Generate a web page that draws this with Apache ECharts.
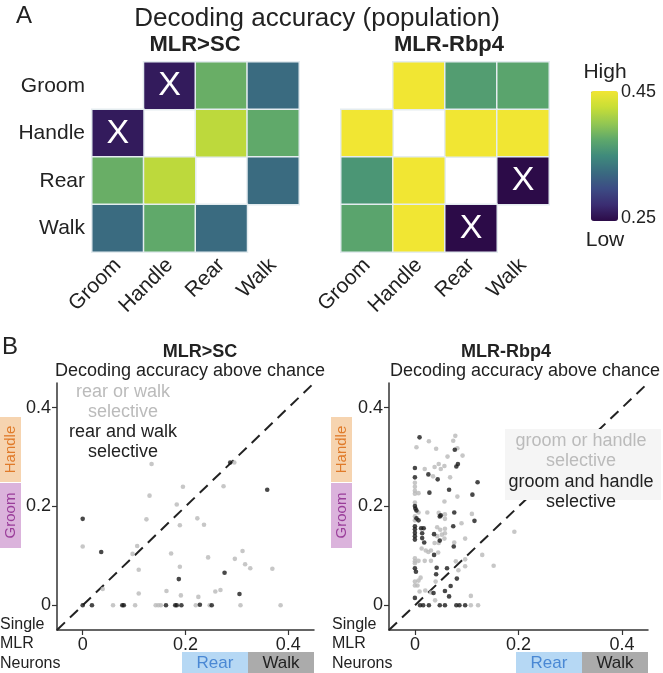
<!DOCTYPE html>
<html><head><meta charset="utf-8">
<script src="https://cdn.jsdelivr.net/npm/echarts@6/dist/echarts.min.js"></script>
<style>html,body{margin:0;padding:0;background:#fff}#c{width:663px;height:673px}</style>
</head><body><div id="c"></div>
<script>
// ---------- data ----------
const behaviors = ['Groom', 'Handle', 'Rear', 'Walk'];
// rows (y, top to bottom) x columns (x); null = diagonal, no cell
const accMLRSC = [
  [null, 0.262, 0.380, 0.325],
  [0.262, null, 0.420, 0.376],
  [0.380, 0.420, null, 0.325],
  [0.325, 0.376, 0.325, null]
];
const accRbp4 = [
  [null, 0.45, 0.366, 0.372],
  [0.45, null, 0.45, 0.45],
  [0.360, 0.45, null, 0.25],
  [0.372, 0.45, 0.25, null]
];
const xMarksMLRSC = [[1, 0], [0, 1]];   // [column, row]
const xMarksRbp4 = [[3, 2], [2, 3]];
const colorRange = [0.25, 0.45];
const colorStops = ['#2c0b48', '#3b2d72', '#3c4c84', '#3a6b80', '#3f8a7c', '#5ea86b', '#93c752', '#c8de36', '#f1e633'];

const scatterRange = [-0.05, 0.45];
const scatterTicks = [0, 0.2, 0.4];
const diagonal = [[-0.05, -0.05], [0.45, 0.45]];

// MLR>SC: gray = rear OR walk selective, black = rear AND walk selective
const scOr = [
  [0.134, 0.286], [0.295, 0.289], [0.195, 0.240], [0.274, 0.241], [0.130, 0.222], [0.183, 0.204],
  [0.124, 0.174], [0.223, 0.176], [0.236, 0.163], [0.189, 0.162], [0.000, 0.119], [0.106, 0.120],
  [0.097, 0.104], [0.172, 0.105], [0.311, 0.110], [0.244, 0.097], [0.296, 0.094], [0.316, 0.083],
  [0.326, 0.075], [0.369, 0.074], [0.109, 0.072], [0.189, 0.078], [0.039, 0.033], [0.109, 0.024],
  [0.163, 0.029], [0.191, 0.020], [0.225, 0.017], [0.258, 0.028], [0.268, 0.031], [0.059, 0],
  [0.102, 0], [0.142, 0], [0.147, 0], [0.152, 0], [0.220, 0], [0.247, 0], [0.307, 0], [0.385, 0]
];
const scAnd = [
  [0.287, 0.289], [0.359, 0.234], [0.000, 0.175], [0.036, 0.108], [0.276, 0.066], [0.187, 0.053],
  [0.305, 0.023], [0.000, 0], [0.018, 0], [0.077, 0], [0.080, 0], [0.162, 0], [0.180, 0],
  [0.183, 0], [0.192, 0], [0.228, 0.001], [0.251, 0]
];
// MLR-Rbp4: gray = groom OR handle selective, black = groom AND handle selective
const rbOr = [
  [0.078, 0.343], [0.027, 0.332], [0.074, 0.333], [0.003, 0.320], [0.041, 0.317], [0.082, 0.318],
  [0.092, 0.303], [0.063, 0.301], [0.019, 0.276], [0.038, 0.280], [0.046, 0.286], [0.050, 0.276],
  [0.057, 0.282], [0.035, 0.261], [0.068, 0.259], [0.000, 0.248], [0.000, 0.240], [0.000, 0.232],
  [0.000, 0.226], [0.007, 0.227], [0.057, 0.210], [0.082, 0.220], [0.000, 0.208], [0.007, 0.188],
  [0.024, 0.188], [0.046, 0.187], [0.058, 0.184], [0.058, 0.175], [0.110, 0.185], [0.000, 0.180],
  [0.000, 0.172], [0.090, 0.166], [0.043, 0.158], [0.049, 0.153], [0.058, 0.155], [0.052, 0.143],
  [0.058, 0.146], [0.043, 0.140], [0.038, 0.126], [0.046, 0.126], [0.057, 0.135], [0.076, 0.127],
  [0.097, 0.135], [0.192, 0.149], [0.013, 0.115], [0.021, 0.111], [0.026, 0.108], [0.031, 0.111],
  [0.045, 0.107], [0.130, 0.102], [0.000, 0.095], [0.000, 0.089], [0.000, 0.085], [0.007, 0.090],
  [0.019, 0.090], [0.031, 0.090], [0.079, 0.089], [0.097, 0.093], [0.152, 0.080], [0.084, 0.071],
  [0.097, 0.079], [0.000, 0.048], [0.007, 0.050], [0.011, 0.056], [0.040, 0.048], [0.000, 0.040],
  [0.005, 0.040], [0.020, 0.030], [0.031, 0.026], [0.009, 0.028], [0.039, 0.010], [0.108, 0.019],
  [0.108, 0], [0.122, 0]
];
const rbAnd = [
  [0.009, 0.340], [0.077, 0.315], [0.083, 0.286], [0.080, 0.281], [0.000, 0.278], [0.026, 0.265],
  [0.000, 0.259], [0.044, 0.255], [0.121, 0.249], [0.028, 0.228], [0.066, 0.234], [0.111, 0.224],
  [0.000, 0.201], [0.001, 0.196], [0.003, 0.192], [0.076, 0.188], [0.050, 0.182], [0.048, 0.180],
  [0.003, 0.176], [0.007, 0.172], [0.115, 0.171], [0.000, 0.160], [0.000, 0.154], [0.000, 0.147],
  [0.000, 0.140], [0.000, 0.133], [0.012, 0.156], [0.017, 0.156], [0.014, 0.146], [0.014, 0.136],
  [0.018, 0.127], [0.074, 0.160], [0.037, 0.144], [0.048, 0.131], [0.075, 0.119], [0.037, 0.102],
  [0.000, 0.075], [0.002, 0.068], [0.042, 0.076], [0.062, 0.075], [0.041, 0.063], [0.081, 0.054],
  [0.069, 0.039], [0.036, 0.025], [0.058, 0.029], [0.066, 0.018], [0.000, 0.015], [0.010, 0],
  [0.016, 0], [0.027, 0], [0.048, 0], [0.058, 0], [0.080, 0], [0.086, 0], [0.097, 0]
];

// ---------- chart ----------
const FONT = '"Liberation Sans", Arial, Helvetica, sans-serif';
const chart = echarts.init(document.getElementById('c'));

function heatData(m, marks) {
  const out = [];
  m.forEach((row, r) => row.forEach((v, c) => {
    if (v == null) return;
    const isX = marks.some(p => p[0] === c && p[1] === r);
    out.push(isX ? { value: [c, r, v], label: { show: true } } : [c, r, v]);
  }));
  return out;
}
function heatX(i) {
  return { gridIndex: i, type: 'category', data: behaviors, axisLine: { show: false }, axisTick: { show: false },
    splitLine: { show: false },
    axisLabel: { rotate: 45, fontSize: 21, color: '#222', margin: 10, fontFamily: FONT } };
}
function heatY(i, showLabel) {
  return { gridIndex: i, type: 'category', data: behaviors, inverse: true, axisLine: { show: false },
    axisTick: { show: false }, splitLine: { show: false },
    axisLabel: { show: showLabel, fontSize: 21, color: '#222', margin: 7, fontFamily: FONT } };
}
function valAxis(i, showLabel) {
  return { gridIndex: i, type: 'value', min: scatterRange[0], max: scatterRange[1],
    axisLine: { show: true, onZero: false, lineStyle: { color: '#333', width: 1.5 } },
    axisTick: { show: true, customValues: scatterTicks, length: 5, lineStyle: { color: '#333', width: 1.2 } },
    axisLabel: { show: showLabel, customValues: scatterTicks, fontSize: 18, color: '#222', margin: 6, fontFamily: FONT },
    splitLine: { show: false } };
}
function heatSeries(i, m, marks) {
  return { type: 'heatmap', xAxisIndex: i, yAxisIndex: i, data: heatData(m, marks),
    itemStyle: { borderColor: '#e4ecef', borderWidth: 1.5 },
    label: { show: false, formatter: 'X', color: '#fff', fontSize: 34, fontFamily: FONT },
    emphasis: { disabled: true }, silent: true };
}
function dots(i, data, color) {
  return { type: 'scatter', xAxisIndex: i, yAxisIndex: i, data: data, symbolSize: 4.6,
    itemStyle: { color: color }, silent: true, z: 3 };
}
function diag(i) {
  return { type: 'line', xAxisIndex: i, yAxisIndex: i, data: diagonal, showSymbol: false, symbol: 'none',
    lineStyle: { color: '#222', width: 2, type: [11, 7] }, silent: true, z: 2 };
}
function txt(text, x, y, size, opts) {
  opts = opts || {};
  return { type: 'text', z: 101, x: x, y: y, rotation: opts.rot || 0,
    style: { text: text, fill: opts.color || '#222', font: (opts.bold ? 'bold ' : '') + size + 'px ' + FONT,
      align: opts.align || 'center', verticalAlign: 'middle', lineHeight: opts.lh || size } };
}
function box(x, y, w, h, fill) {
  return { type: 'rect', z: 100, shape: { x: x, y: y, width: w, height: h }, style: { fill: fill } };
}

const graphics = [
  txt('A', 24, 16, 24),
  txt('Decoding accuracy (population)', 317, 19, 26),
  txt('MLR>SC', 195, 45, 22, { bold: true }),
  txt('MLR-Rbp4', 449, 45, 22, { bold: true }),
  txt('High', 605, 72, 21),
  txt('Low', 605, 240, 21),
  txt('B', 10, 347, 24),
  txt('MLR>SC', 200, 352, 18, { bold: true }),
  txt('Decoding accuracy above chance', 190, 371, 18),
  txt('MLR-Rbp4', 506, 352, 18, { bold: true }),
  txt('Decoding accuracy above chance', 525, 371, 18),
  txt('rear or walk', 123, 392, 18, { color: '#bbbbbb' }),
  txt('selective', 123, 412, 18, { color: '#bbbbbb' }),
  txt('rear and walk', 123, 432, 18),
  txt('selective', 123, 452, 18),
  box(505, 429, 156, 71, '#f5f5f5'),
  txt('groom or handle', 581, 441, 18, { color: '#bbbbbb' }),
  txt('selective', 581, 461, 18, { color: '#bbbbbb' }),
  txt('groom and handle', 581, 482, 18),
  txt('selective', 581, 502, 18),
  // side label boxes
  box(0, 417, 21, 65, '#f6d4b0'), txt('Handle', 10.5, 449.5, 15, { color: '#e07b2a', rot: Math.PI / 2 }),
  box(0, 483, 21, 65, '#dbb3dc'), txt('Groom', 10.5, 515.5, 15, { color: '#9a3d9a', rot: Math.PI / 2 }),
  box(331, 417, 21, 65, '#f6d4b0'), txt('Handle', 341.5, 449.5, 15, { color: '#e07b2a', rot: Math.PI / 2 }),
  box(331, 483, 21, 65, '#dbb3dc'), txt('Groom', 341.5, 515.5, 15, { color: '#9a3d9a', rot: Math.PI / 2 }),
  // bottom label boxes
  box(182, 652, 66, 21, '#b6d8f4'), txt('Rear', 215, 663, 17, { color: '#4a88d4' }),
  box(248, 652, 66, 21, '#ababab'), txt('Walk', 281, 663, 17),
  box(516, 652, 66, 21, '#b6d8f4'), txt('Rear', 549, 663, 17, { color: '#4a88d4' }),
  box(582, 652, 66, 21, '#ababab'), txt('Walk', 615, 663, 17),
  txt('Single\nMLR\nNeurons', 0, 644, 16, { align: 'left', lh: 19.5 }),
  txt('Single\nMLR\nNeurons', 332, 644, 16, { align: 'left', lh: 19.5 })
];

const option = {
  animation: false,
  backgroundColor: '#fff',
  textStyle: { fontFamily: FONT },
  grid: [
    { left: 92, top: 62, width: 207, height: 190 },
    { left: 341, top: 62, width: 208, height: 190 },
    { left: 57, top: 383, width: 257, height: 247 },
    { left: 389, top: 383, width: 259, height: 247 },
    { left: 591, top: 92, width: 27, height: 126 }
  ],
  xAxis: [heatX(0), heatX(1), valAxis(2, true), valAxis(3, true),
    { gridIndex: 4, type: 'value', show: false, min: 0, max: 1 }],
  yAxis: [heatY(0, true), heatY(1, false), valAxis(2, true), valAxis(3, true),
    { gridIndex: 4, type: 'value', position: 'right', min: colorRange[0], max: colorRange[1],
      axisLine: { show: false }, splitLine: { show: false },
      axisTick: { show: true, customValues: colorRange, length: 5, lineStyle: { color: '#222', width: 1.2 } },
      axisLabel: { customValues: colorRange, fontSize: 18, color: '#222', margin: 3, fontFamily: FONT,
        formatter: v => v.toFixed(2) } }],
  visualMap: {
    type: 'continuous', min: colorRange[0], max: colorRange[1], seriesIndex: [0, 1], dimension: 2,
    inRange: { color: colorStops }, orient: 'vertical', left: 591, top: 91, itemWidth: 27, itemHeight: 130,
    calculable: false, padding: 0, text: null, hoverLink: false
  },
  series: [
    heatSeries(0, accMLRSC, xMarksMLRSC),
    heatSeries(1, accRbp4, xMarksRbp4),
    diag(2), dots(2, scOr, '#b9b9b9'), dots(2, scAnd, '#1a1a1a'),
    diag(3), dots(3, rbOr, '#b9b9b9'), dots(3, rbAnd, '#1a1a1a')
  ],
  graphic: graphics
};
chart.setOption(option);
</script></body></html>
